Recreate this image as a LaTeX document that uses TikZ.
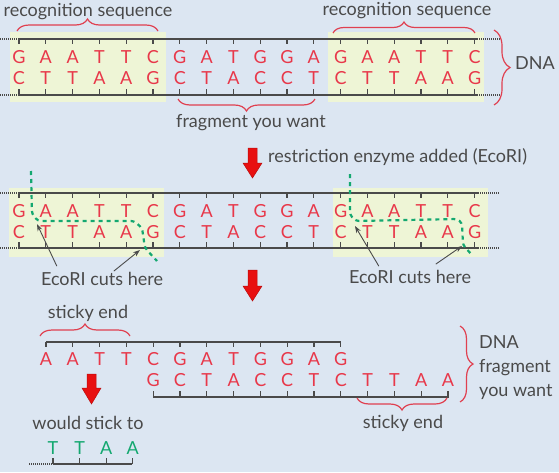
\documentclass[tikz,border=0pt]{standalone}
\usepackage{fontspec}
\setmainfont{Lato}
\usetikzlibrary{decorations.pathreplacing,arrows.meta}
\definecolor{bgcol}{HTML}{DCE6F2}
\definecolor{reccol}{HTML}{EEF5D6}
\definecolor{basecol}{HTML}{E8384A}
\definecolor{bracecol}{HTML}{E04050}
\definecolor{txtcol}{HTML}{4A4A4A}
\definecolor{cutcol}{HTML}{14A870}
\definecolor{arrcol}{HTML}{E81010}
\tikzset{
  basel/.style={text=basecol, font=\fontsize{18}{18}\selectfont, inner sep=0pt, anchor=center},
  sticker/.style={text=cutcol, font=\fontsize{18}{18}\selectfont, inner sep=0pt, anchor=center},
  lbl/.style={text=txtcol, font=\fontsize{18}{20}\selectfont, inner sep=0pt},
  strand/.style={line width=1.3pt, draw=txtcol},
  tickline/.style={line width=1.1pt, draw=txtcol},
  dotline/.style={line width=1.1pt, draw=txtcol, dash pattern=on 1pt off 1pt},
  bracep/.style={draw=bracecol, line width=1.2pt, decorate, decoration={brace, amplitude=#1}},
  bracep/.default=12,
  redarrow/.style={fill=arrcol, draw=arrcol!80!black, line width=0.5pt},
  cutline/.style={draw=cutcol, line width=2.2pt, dash pattern=on 4pt off 4pt, rounded corners=3pt},
  pointer/.style={draw=txtcol, line width=0.9pt, -{Stealth[length=7pt,width=5pt]}},
}
\begin{document}
\begin{tikzpicture}[x=1pt,y=-1pt]
\fill[bgcol] (0,0) rectangle (559,472);
\useasboundingbox (0,0) rectangle (559,472);
% recognition boxes
\fill[reccol] (10,32) rectangle (166,102);
\fill[reccol] (328,32) rectangle (484,102);
\fill[reccol] (9,188) rectangle (164,257);
\fill[reccol] (333,188) rectangle (488,257);
% ---------- section 1 ----------
\draw[strand] (18,39) -- (477,39);
\draw[strand] (18,95) -- (477,95);
\draw[dotline] (0,39) -- (18,39) (477,39) -- (500,39);
\draw[dotline] (0,95) -- (18,95) (477,95) -- (500,95);
\foreach \i in {1,...,18} {
  \draw[tickline] ({19+26.8*(\i-1)},39) -- ++(0,5);
  \draw[tickline] ({19+26.8*(\i-1)},95) -- ++(0,-6);
}
\foreach \l [count=\i] in {G,A,A,T,T,C,G,A,T,G,G,A,G,A,A,T,T,C}
  \node[basel] (pa\i) at ({19+26.8*(\i-1)},57) {\l};
\foreach \l [count=\i] in {C,T,T,A,A,G,C,T,A,C,C,T,C,T,T,A,A,G}
  \node[basel] (pb\i) at ({19+26.8*(\i-1)},78) {\l};
\draw[bracep=12] (17,31) -- (158,31);
\node[lbl] (rec1) at (88,12) {recognition sequence};
\draw[bracep=11] (333,33) -- (475,33);
\node[lbl] (rec2) at (407,11) {recognition sequence};
\draw[bracep=16] (494,30) -- (494,105);
\node[lbl] (dna1) at (535,63) {DNA};
\draw[bracep=12] (315,99) -- (178,99);
\node[lbl] (frag1) at (251,123) {fragment you want};
% arrow 1
\fill[redarrow] (248,148) -- (257,148) -- (257,163) -- (262,163) -- (252.5,178) -- (243,163) -- (248,163) -- cycle;
\node[lbl, anchor=west] (enz) at (268,157) {restriction enzyme added (EcoRI)};
% ---------- section 2 ----------
\draw[strand] (18,193) -- (478,193);
\draw[strand] (18,248) -- (478,248);
\draw[dotline] (0,193) -- (18,193) (478,193) -- (500,193);
\draw[dotline] (0,248) -- (18,248) (478,248) -- (500,248);
\foreach \i in {1,...,18} {
  \draw[tickline] ({19+26.8*(\i-1)},193) -- ++(0,5);
  \draw[tickline] ({19+26.8*(\i-1)},248) -- ++(0,-6);
}
\foreach \l [count=\i] in {G,A,A,T,T,C,G,A,T,G,G,A,G,A,A,T,T,C}
  \node[basel] (qa\i) at ({19+26.8*(\i-1)},211) {\l};
\foreach \l [count=\i] in {C,T,T,A,A,G,C,T,A,C,C,T,C,T,T,A,A,G}
  \node[basel] (qb\i) at ({19+26.8*(\i-1)},232) {\l};
\draw[cutline] (31,171) -- (32,214) -- (38,221) -- (134,221) -- (142,228) -- (145,248) -- (157,261);
\draw[cutline] (350,174) -- (350,215) -- (356,221) -- (457,219) -- (462,223) -- (463,245) -- (472,255);
\node[lbl] (ecoL) at (102,279) {EcoRI cuts here};
\node[lbl] (ecoR) at (410,277) {EcoRI cuts here};
\coordinate (cL1) at (37,224);
\coordinate (cL2) at (140,250);
\coordinate (cR1) at (355,226);
\coordinate (cR2) at (462,246);
\draw[pointer] ([xshift=16pt,yshift=6pt]ecoL.north west) -- (cL1);
\draw[pointer] ([xshift=73pt,yshift=1pt]ecoL.north west) -- (cL2);
\draw[pointer] ([xshift=30pt,yshift=4pt]ecoR.north west) -- (cR1);
\draw[pointer] ([xshift=87pt,yshift=6pt]ecoR.north west) -- (cR2);
% arrow 2
\fill[redarrow] (248,270) -- (257,270) -- (257,286) -- (262,286) -- (252.5,301) -- (243,286) -- (248,286) -- cycle;
% ---------- section 3 ----------
\draw[strand] (46,342) -- (341,342);
\foreach \j in {1,...,12}
  \draw[tickline] ({46+26.8*(\j-1)},342) -- ++(0,5);
\draw[strand] (153,397) -- (449,397);
\foreach \j in {5,...,16}
  \draw[tickline] ({46+26.8*(\j-1)},397) -- ++(0,-6);
\foreach \l [count=\j] in {A,A,T,T,C,G,A,T,G,G,A,G}
  \node[basel] (ra\j) at ({46+26.8*(\j-1)},359) {\l};
\foreach \l [count=\j from 5] in {G,C,T,A,C,C,T,C,T,T,A,A}
  \node[basel] (rb\j) at ({46+26.8*(\j-1)},380) {\l};
\draw[bracep=12] (40,336) -- (130,336);
\node[lbl] (stick1) at (88,313) {sticky end};
\draw[bracep=12] (447,398) -- (357,398);
\node[lbl] (stick2) at (403,423) {sticky end};
\draw[bracep=13] (460,326) -- (460,402);
\node[lbl, anchor=west, align=left, font=\fontsize{18}{24}\selectfont] (frag2) at (479,368) {DNA\\fragment\\you want};
% arrow 3
\fill[redarrow] (87,374) -- (96,374) -- (96,388) -- (101,388) -- (91.5,404) -- (82,388) -- (87,388) -- cycle;
\node[lbl] (would) at (88,423) {would stick to};
\draw[strand] (53,464) -- (132,464);
\draw[dotline] (29,464) -- (53,464);
\foreach \l [count=\k] in {T,T,A,A} {
  \node[sticker] (st\k) at ({53+26.6*(\k-1)},448) {\l};
  \draw[tickline] ({53+26.6*(\k-1)},464) -- ++(0,-6);
}
\end{tikzpicture}
\end{document}
